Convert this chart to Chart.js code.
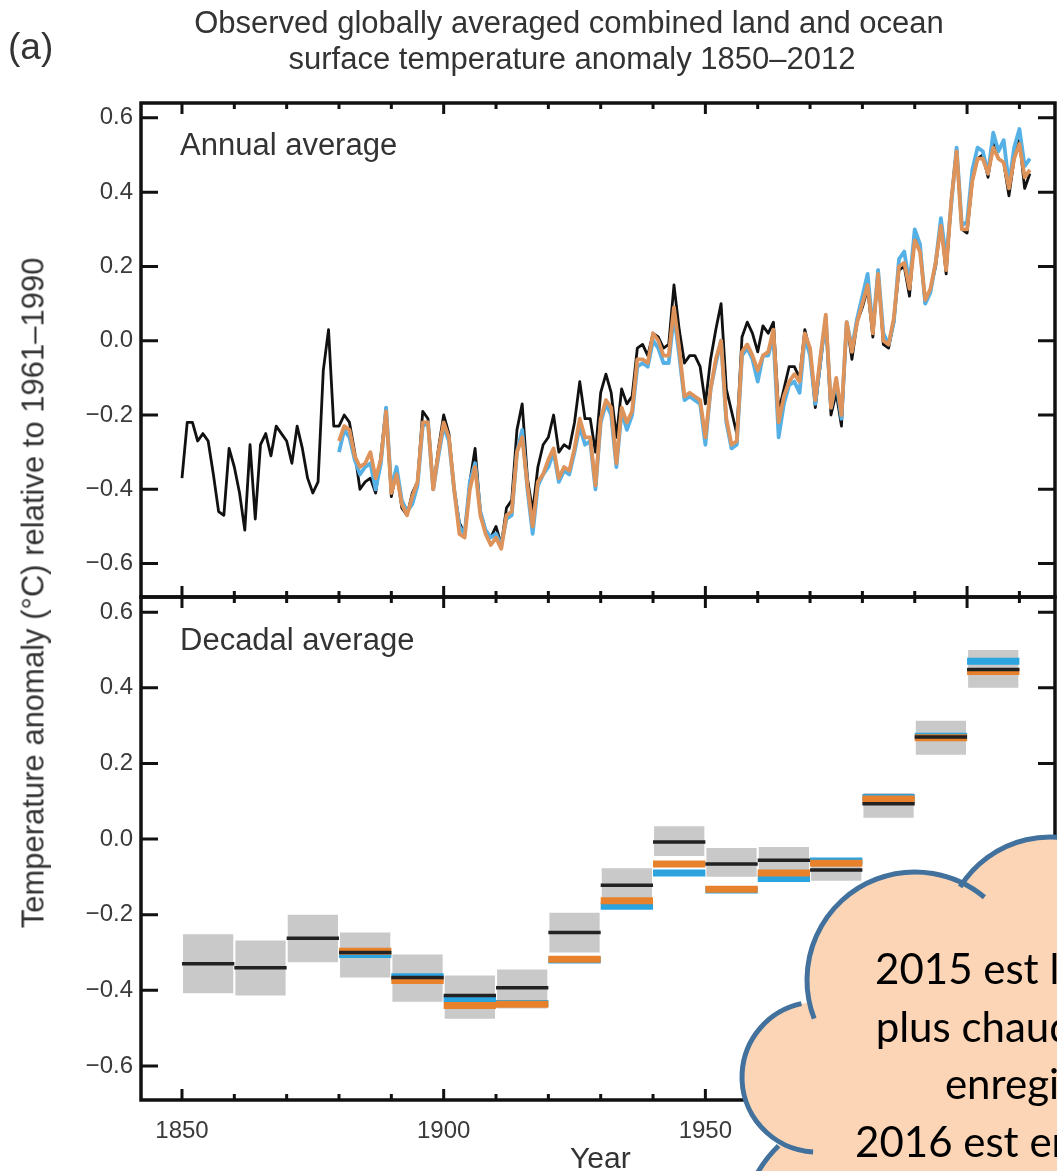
<!DOCTYPE html>
<html>
<head>
<meta charset="utf-8">
<script src="https://cdn.jsdelivr.net/npm/chart.js@4.4.0/dist/chart.umd.min.js"></script>
<style>
  html, body { margin: 0; padding: 0; background: #fff; }
  body { width: 1057px; height: 1171px; position: relative; overflow: hidden;
         font-family: 'Liberation Sans', Arial, sans-serif; color: #333; }
  canvas { position: absolute; left: 0; }
  #annualChart { top: 0; }
  #decadalChart { top: 590px; }
  #cloud { top: 0; pointer-events: none; }
  .txt { position: absolute; white-space: nowrap; line-height: 1; }
  .cloudText { position: absolute; left: 748px; top: 940px; width: 600px; text-align: center;
               font-family: Lato, 'Open Sans', sans-serif; font-size: 42px; line-height: 57.5px; color: #000; }
</style>
</head>
<body>
<canvas id="annualChart" width="1057" height="600"></canvas>
<canvas id="decadalChart" width="1057" height="581"></canvas>

<div class="txt" style="left:569px; top:7px; font-size:31px; transform:translateX(-50%);">Observed globally averaged combined land and ocean</div>
<div class="txt" style="left:572px; top:43px; font-size:31px; transform:translateX(-50%);">surface temperature anomaly 1850–2012</div>
<div class="txt" style="left:8px; top:28px; font-size:37px;">(a)</div>
<div class="txt" style="left:180px; top:129px; font-size:31px;">Annual average</div>
<div class="txt" style="left:180px; top:624px; font-size:31px;">Decadal average</div>
<div class="txt" style="left:33px; top:593px; font-size:31px; transform:translate(-50%,-50%) rotate(-90deg);">Temperature anomaly (°C) relative to 1961–1990</div>
<div class="txt" style="left:570px; top:1143px; font-size:30px;">Year</div>

<canvas id="cloud" width="1057" height="1171"></canvas>
<div class="cloudText">2015 est l'année la<br>plus chaude jamais<br>enregistrée<br>2016 est encore plus</div>

<script>
// axis ticks
const yTickValues = [-0.6, -0.4, -0.2, 0.0, 0.2, 0.4, 0.6];
const xTickLabels = [1850, 1900, 1950, 2000];
const xTickMarks = [1850, 1860, 1870, 1880, 1890, 1900, 1910, 1920, 1930, 1940, 1950, 1960, 1970, 1980, 1990, 2000, 2010];

// annual averages (HadCRUT4 from 1850, NOAA MLOST and NASA GISS from 1880)
const hadcrutStart = 1850;
const hadcrutAnnual = [
  -0.37, -0.22, -0.22, -0.27, -0.25, -0.27, -0.36, -0.46, -0.47, -0.29,
  -0.34, -0.41, -0.51, -0.28, -0.48, -0.28, -0.25, -0.31, -0.23, -0.25,
  -0.27, -0.33, -0.23, -0.29, -0.37, -0.41, -0.38, -0.08, 0.03, -0.23,
  -0.23, -0.20, -0.22, -0.30, -0.40, -0.38, -0.37, -0.41, -0.31, -0.18,
  -0.42, -0.35, -0.45, -0.47, -0.41, -0.38, -0.19, -0.21, -0.40, -0.29,
  -0.20, -0.25, -0.40, -0.49, -0.52, -0.38, -0.29, -0.46, -0.51, -0.53,
  -0.50, -0.55, -0.45, -0.43, -0.24, -0.17, -0.37, -0.46, -0.34, -0.28,
  -0.26, -0.20, -0.30, -0.28, -0.29, -0.22, -0.11, -0.21, -0.21, -0.30,
  -0.14, -0.09, -0.14, -0.26, -0.13, -0.17, -0.15, -0.02, -0.01, -0.04,
  0.02, 0.01, -0.02, -0.01, 0.15, 0.03, -0.06, -0.04, -0.04, -0.07,
  -0.17, -0.05, 0.03, 0.10, -0.13, -0.19, -0.25, 0.01, 0.05, 0.02,
  -0.03, 0.04, 0.02, 0.05, -0.19, -0.13, -0.07, -0.07, -0.10, 0.03,
  -0.03, -0.18, -0.06, 0.06, -0.20, -0.14, -0.23, 0.05, -0.05, 0.05,
  0.09, 0.14, 0.01, 0.19, -0.01, -0.02, 0.05, 0.19, 0.20, 0.12,
  0.29, 0.25, 0.10, 0.14, 0.20, 0.32, 0.18, 0.38, 0.52, 0.30,
  0.29, 0.43, 0.49, 0.50, 0.44, 0.53, 0.49, 0.48, 0.39, 0.49,
  0.54, 0.41, 0.45
];
const otherStart = 1880;
const mlostAnnual = [
  -0.27, -0.23, -0.24, -0.31, -0.34, -0.33, -0.30, -0.37, -0.32, -0.19,
  -0.41, -0.36, -0.44, -0.47, -0.42, -0.38, -0.22, -0.22, -0.40, -0.30,
  -0.22, -0.26, -0.40, -0.52, -0.53, -0.40, -0.34, -0.47, -0.52, -0.55,
  -0.53, -0.56, -0.47, -0.46, -0.30, -0.26, -0.39, -0.50, -0.38, -0.36,
  -0.32, -0.29, -0.37, -0.34, -0.35, -0.29, -0.21, -0.26, -0.26, -0.39,
  -0.21, -0.16, -0.18, -0.33, -0.18, -0.22, -0.19, -0.05, -0.05, -0.06,
  0.02, 0.00, -0.04, -0.04, 0.09, -0.02, -0.15, -0.14, -0.15, -0.16,
  -0.26, -0.13, -0.05, 0.00, -0.21, -0.28, -0.27, -0.03, -0.01, -0.04,
  -0.08, -0.04, -0.03, 0.03, -0.22, -0.15, -0.11, -0.09, -0.11, 0.02,
  -0.02, -0.16, -0.04, 0.07, -0.18, -0.10, -0.20, 0.05, -0.03, 0.05,
  0.10, 0.15, 0.02, 0.18, 0.00, -0.01, 0.06, 0.20, 0.21, 0.14,
  0.27, 0.24, 0.11, 0.14, 0.21, 0.31, 0.19, 0.38, 0.51, 0.30,
  0.30, 0.43, 0.49, 0.49, 0.45, 0.52, 0.49, 0.48, 0.41, 0.49,
  0.53, 0.44, 0.46
];
const gissAnnual = [
  -0.30, -0.24, -0.26, -0.32, -0.36, -0.34, -0.33, -0.40, -0.33, -0.18,
  -0.40, -0.34, -0.43, -0.46, -0.44, -0.39, -0.23, -0.22, -0.40, -0.31,
  -0.23, -0.27, -0.40, -0.50, -0.52, -0.38, -0.33, -0.46, -0.51, -0.53,
  -0.52, -0.55, -0.48, -0.47, -0.30, -0.24, -0.40, -0.52, -0.39, -0.36,
  -0.34, -0.30, -0.38, -0.35, -0.36, -0.30, -0.23, -0.28, -0.27, -0.40,
  -0.22, -0.17, -0.20, -0.34, -0.19, -0.24, -0.20, -0.07, -0.06, -0.07,
  0.00, -0.02, -0.06, -0.06, 0.07, -0.04, -0.16, -0.15, -0.16, -0.17,
  -0.28, -0.13, -0.06, 0.00, -0.22, -0.29, -0.28, -0.04, -0.02, -0.05,
  -0.11, -0.04, -0.04, 0.01, -0.26, -0.17, -0.12, -0.11, -0.14, 0.01,
  -0.04, -0.17, -0.05, 0.06, -0.18, -0.11, -0.21, 0.05, -0.02, 0.06,
  0.12, 0.18, 0.03, 0.19, 0.02, -0.01, 0.05, 0.22, 0.24, 0.15,
  0.30, 0.26, 0.10, 0.13, 0.21, 0.33, 0.22, 0.37, 0.52, 0.31,
  0.32, 0.46, 0.52, 0.51, 0.45, 0.56, 0.51, 0.54, 0.42, 0.52,
  0.57, 0.47, 0.49
];

// decadal averages
const decadeStarts = [1850, 1860, 1870, 1880, 1890, 1900, 1910, 1920, 1930, 1940, 1950, 1960, 1970, 1980, 1990, 2000];
const hadcrutDecadal = [-0.33, -0.34, -0.262, -0.30, -0.366, -0.414, -0.393, -0.247, -0.122, -0.008, -0.066, -0.056, -0.082, 0.093, 0.27, 0.448];
const hadcrutLow  = [-0.408, -0.414, -0.326, -0.366, -0.43, -0.475, -0.448, -0.30, -0.165, -0.045, -0.10, -0.11, -0.11, 0.056, 0.223, 0.40];
const hadcrutHigh = [-0.252, -0.268, -0.20, -0.247, -0.305, -0.361, -0.345, -0.195, -0.077, 0.034, -0.024, -0.021, -0.05, 0.122, 0.313, 0.50];
const otherDecades = [1880, 1890, 1900, 1910, 1920, 1930, 1940, 1950, 1960, 1970, 1980, 1990, 2000];
const mlostDecadal = [-0.297, -0.374, -0.44, -0.437, -0.318, -0.163, -0.066, -0.133, -0.09, -0.064, 0.106, 0.268, 0.443];
const gissDecadal  = [-0.305, -0.364, -0.424, -0.435, -0.32, -0.178, -0.09, -0.135, -0.104, -0.058, 0.11, 0.272, 0.47];

const yMin = -0.69, yMax = 0.64;
const xMin = 1842.17, xMax = 2016.8;

Chart.defaults.font.family = "'Liberation Sans', Arial, sans-serif";
Chart.defaults.color = '#3a3a3a';

function toPoints(start, values) {
    return values.map((v, i) => ({ x: start + i, y: v }));
}

// one horizontal segment per decade, broken by null points
function toSteps(decades, values) {
    const pts = [];
    decades.forEach((d, i) => {
        pts.push({ x: d, y: values[i] }, { x: d + 10, y: values[i] }, { x: d + 10, y: null });
    });
    return pts;
}

function fmtTick(v) {
    const s = Math.abs(v).toFixed(1);
    return v < -0.001 ? '\u2212' + s : s;
}

// scales should not push the chart area around for their labels
function noLabelPadding(s) {
    s.paddingTop = 0;
    s.paddingBottom = 0;
    s.paddingLeft = 0;
    s.paddingRight = 0;
}

// frame with inward ticks on all four sides
const panelFrame = {
    id: 'panelFrame',
    afterDatasetsDraw(chart) {
        const { ctx, chartArea: a, scales } = chart;
        ctx.save();
        ctx.strokeStyle = '#111';
        ctx.lineWidth = 3;
        ctx.beginPath();
        yTickValues.forEach(v => {
            const y = scales.y.getPixelForValue(v);
            ctx.moveTo(a.left, y); ctx.lineTo(a.left + 17, y);
            ctx.moveTo(a.right, y); ctx.lineTo(a.right - 17, y);
        });
        xTickMarks.forEach(yr => {
            const x = scales.x.getPixelForValue(yr);
            const len = yr % 50 === 0 ? 11 : 6;
            ctx.moveTo(x, a.top); ctx.lineTo(x, a.top + len);
            ctx.moveTo(x, a.bottom); ctx.lineTo(x, a.bottom - len);
        });
        ctx.stroke();
        ctx.lineWidth = 3.5;
        ctx.strokeRect(a.left, a.top, a.right - a.left, a.bottom - a.top);
        ctx.restore();
    }
};

function yScale() {
    return {
        type: 'linear',
        min: yMin,
        max: yMax,
        bounds: 'data',
        grid: { display: false, drawTicks: false },
        border: { display: false },
        afterBuildTicks: s => { s.ticks = yTickValues.map(v => ({ value: v })); },
        afterFit: s => { s.width = 141; noLabelPadding(s); },
        ticks: { padding: 8, font: { size: 24 }, callback: v => fmtTick(v) }
    };
}

const lineStyle = { pointRadius: 0, tension: 0, borderJoinStyle: 'round', fill: false };

// top panel: annual average
new Chart(document.getElementById('annualChart'), {
    type: 'line',
    data: {
        datasets: [
            { label: 'NOAA MLOST', data: toPoints(otherStart, mlostAnnual), borderColor: '#de935a', borderWidth: 3.8, order: 1, ...lineStyle },
            { label: 'NASA GISS', data: toPoints(otherStart, gissAnnual), borderColor: '#55b0e6', borderWidth: 3.8, order: 2, ...lineStyle },
            { label: 'HadCRUT4', data: toPoints(hadcrutStart, hadcrutAnnual), borderColor: '#111', borderWidth: 2.8, order: 3, ...lineStyle }
        ]
    },
    options: {
        responsive: false,
        animation: false,
        layout: { padding: { top: 103, bottom: 3, left: 0, right: 2 } },
        plugins: { legend: { display: false }, tooltip: { enabled: false } },
        scales: {
            x: { type: 'linear', min: xMin, max: xMax, bounds: 'data', offset: false, display: false },
            y: yScale()
        }
    },
    plugins: [panelFrame]
});

// bottom panel: decadal average
const stepStyle = { pointRadius: 0, tension: 0, borderCapStyle: 'butt', fill: false, spanGaps: false };

new Chart(document.getElementById('decadalChart'), {
    type: 'line',
    data: {
        datasets: [
            { label: 'HadCRUT4', data: toSteps(decadeStarts, hadcrutDecadal), borderColor: '#222', borderWidth: 3.5, order: 1, ...stepStyle },
            { label: 'NOAA MLOST', data: toSteps(otherDecades, mlostDecadal), borderColor: '#e8812c', borderWidth: 7, order: 2, ...stepStyle },
            { label: 'NASA GISS', data: toSteps(otherDecades, gissDecadal), borderColor: '#2aa3df', borderWidth: 7, order: 3, ...stepStyle },
            {
                type: 'bar',
                label: 'HadCRUT4 uncertainty',
                data: decadeStarts.map((d, i) => ({ x: d + 5, y: [hadcrutLow[i], hadcrutHigh[i]] })),
                backgroundColor: '#c9c9c9',
                borderWidth: 0,
                barPercentage: 0.96,
                categoryPercentage: 1,
                order: 4
            }
        ]
    },
    options: {
        responsive: false,
        animation: false,
        layout: { padding: { top: 7, bottom: 0, left: 0, right: 2 } },
        plugins: { legend: { display: false }, tooltip: { enabled: false } },
        scales: {
            x: {
                type: 'linear', min: xMin, max: xMax, bounds: 'data', offset: false,
                grid: { display: false, drawTicks: false },
                border: { display: false },
                afterBuildTicks: s => { s.ticks = xTickLabels.map(v => ({ value: v })); },
                afterFit: s => { s.height = 71; noLabelPadding(s); },
                ticks: { padding: 17, autoSkip: false, maxRotation: 0, font: { size: 24 }, callback: v => String(v) }
            },
            y: yScale()
        }
    },
    plugins: [panelFrame]
});

// cloud callout over the lower right corner
function drawCloud() {
    const ctx = document.getElementById('cloud').getContext('2d');
    const rad = d => d * Math.PI / 180;
    const bumps = [
        { cx: 915, cy: 980, r: 108, a0: 159, a1: 310 },
        { cx: 1050, cy: 943, r: 106, a0: 212, a1: 400 },
        { cx: 817, cy: 1077, r: 75, a0: 93, a1: 258 },
        { cx: 862, cy: 1232, r: 120, a0: 170, a1: 226 }
    ];
    ctx.fillStyle = '#fbd5b5';
    bumps.forEach(b => {
        ctx.beginPath();
        ctx.arc(b.cx, b.cy, b.r, 0, Math.PI * 2);
        ctx.fill();
    });
    ctx.beginPath();
    ctx.moveTo(915, 980); ctx.lineTo(1050, 943); ctx.lineTo(1060, 943);
    ctx.lineTo(1060, 1180); ctx.lineTo(862, 1180); ctx.lineTo(817, 1077);
    ctx.closePath();
    ctx.fill();
    ctx.strokeStyle = '#41719c';
    ctx.lineWidth = 5;
    bumps.forEach(b => {
        ctx.beginPath();
        ctx.arc(b.cx, b.cy, b.r, rad(b.a0), rad(b.a1));
        ctx.stroke();
    });
}
drawCloud();
</script>
</body>
</html>
